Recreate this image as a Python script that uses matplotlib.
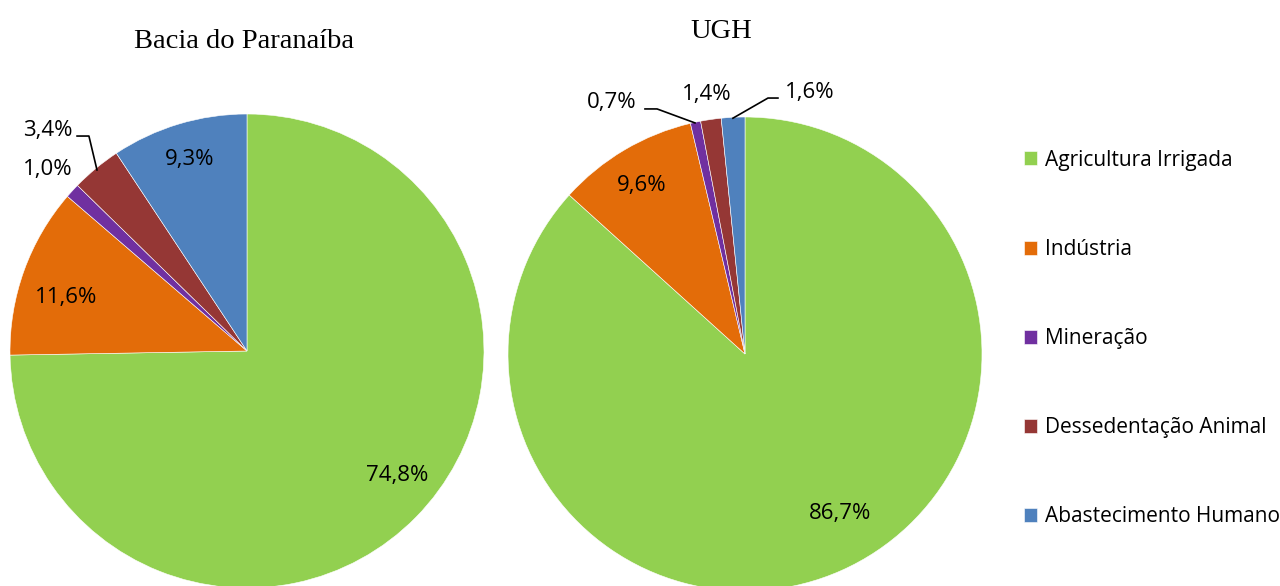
import matplotlib.pyplot as plt

categorias = ['Agricultura Irrigada', 'Indústria', 'Mineração',
              'Dessedentação Animal', 'Abastecimento Humano']
cores = ['#92D050', '#E36C09', '#7030A0', '#953735', '#4F81BD']

bacia = [74.8, 11.6, 1.0, 3.4, 9.3]
ugh = [86.7, 9.6, 0.7, 1.4, 1.6]

# label positions (in pie radius units)
pos_bacia = [(0.633, -0.527), (-0.764, 0.224), (-0.840, 0.764),
             (-0.840, 0.932), (-0.241, 0.806)]
pos_ugh = [(0.401, -0.671), (-0.435, 0.713), (-0.561, 1.063),
           (-0.160, 1.093), (0.274, 1.105)]

fonte = 'Open Sans'
W, H = 1280, 586
fig = plt.figure(figsize=(12.8, 5.86), dpi=100)


def rotulo(v):
    return f'{v:.1f}'.replace('.', ',') + '%'


def pizza(cx, cy, r, valores, posicoes, titulo, tx, ty):
    ax = fig.add_axes([(cx - r) / W, (H - cy - r) / H, 2 * r / W, 2 * r / H])
    wedges, _ = ax.pie(valores, colors=cores, startangle=90, counterclock=False,
                       radius=1, wedgeprops=dict(linewidth=0.4, edgecolor='white'))
    for w in wedges:
        w.set_clip_on(False)
    ax.set_xlim(-1, 1)
    ax.set_ylim(-1, 1)
    ax.set_aspect('equal')
    ax.axis('off')
    for v, (x, y) in zip(valores, posicoes):
        ax.text(x, y, rotulo(v), ha='center', va='center', fontsize=16,
                family=fonte, color='black')
    fig.text(tx / W, 1 - ty / H, titulo, ha='center', va='center',
             fontsize=20.5, family='Liberation Serif')
    return ax, wedges


ax1, wedges = pizza(247, 351, 237, bacia, pos_bacia, 'Bacia do Paranaíba', 244, 42)
ax1.plot([-0.717, -0.667, -0.633], [0.907, 0.907, 0.764], color='black', lw=1.2,
         clip_on=False)

ax2, _ = pizza(745, 354, 237, ugh, pos_ugh, 'UGH', 721, 32)
ax2.plot([-0.422, -0.371, -0.211], [1.034, 1.034, 0.975], color='black', lw=1.2,
         clip_on=False)
ax2.plot([-0.051, 0.097, 0.139], [0.995, 1.080, 1.080], color='black', lw=1.2,
         clip_on=False)

leg = fig.legend(wedges, categorias, loc='upper left',
                 bbox_to_anchor=(1005 / W, 1 - 131 / H), frameon=False,
                 prop={'family': fonte, 'size': 15}, labelspacing=3.27,
                 handlelength=0.65, handleheight=0.65, handletextpad=0.35)

fig.savefig('out.png', dpi=100)
